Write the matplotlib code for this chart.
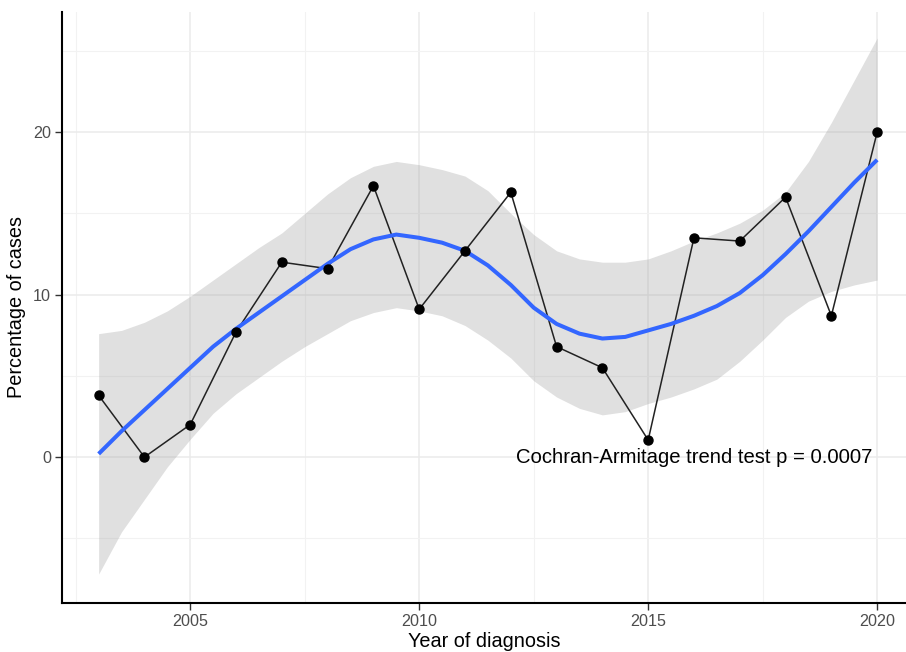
import numpy as np
import matplotlib
matplotlib.use("Agg")
import matplotlib.pyplot as plt
from matplotlib.ticker import MultipleLocator

plt.rcParams['font.family'] = ['Liberation Sans', 'DejaVu Sans']

# observed percentages per year
years = [2003, 2004, 2005, 2006, 2007, 2008, 2009, 2010, 2011, 2012,
         2013, 2014, 2015, 2016, 2017, 2018, 2019, 2020]
pct = [3.8, 0.0, 2.0, 7.7, 12.0, 11.6, 16.7, 9.1, 12.7, 16.3,
       6.8, 5.5, 1.05, 13.5, 13.3, 16.0, 8.7, 20.0]

# loess smooth and its band, every half year
smooth_x = [2003, 2003.5, 2004, 2004.5, 2005, 2005.5, 2006, 2006.5, 2007, 2007.5,
            2008, 2008.5, 2009, 2009.5, 2010, 2010.5, 2011, 2011.5, 2012, 2012.5,
            2013, 2013.5, 2014, 2014.5, 2015, 2015.5, 2016, 2016.5, 2017, 2017.5,
            2018, 2018.5, 2019, 2019.5, 2020]
smooth_fit = [0.2, 1.6, 2.9, 4.2, 5.5, 6.8, 7.9, 8.9, 9.9, 10.9,
              11.9, 12.8, 13.4, 13.7, 13.5, 13.2, 12.7, 11.8, 10.6, 9.2,
              8.2, 7.6, 7.3, 7.4, 7.8, 8.2, 8.7, 9.3, 10.1, 11.2,
              12.5, 13.9, 15.4, 16.9, 18.3]
band_hi = [7.6, 7.8, 8.3, 9.0, 9.9, 10.9, 11.9, 12.9, 13.8, 15.0,
           16.2, 17.2, 17.9, 18.2, 18.0, 17.7, 17.3, 16.4, 15.0, 13.7,
           12.7, 12.2, 12.0, 12.0, 12.2, 12.7, 13.3, 13.8, 14.4, 15.2,
           16.3, 18.2, 20.6, 23.2, 25.8]
band_lo = [-7.2, -4.6, -2.6, -0.6, 1.1, 2.7, 3.9, 4.9, 5.9, 6.8,
           7.6, 8.4, 8.9, 9.2, 9.0, 8.7, 8.1, 7.2, 6.1, 4.7,
           3.7, 3.0, 2.6, 2.8, 3.3, 3.7, 4.2, 4.8, 5.9, 7.2,
           8.6, 9.6, 10.2, 10.6, 10.9]

fig = plt.figure(figsize=(9.06, 6.52), dpi=100)
ax = fig.add_axes([62/906, 49/652, 844/906, 591/652])

ax.fill_between(smooth_x, band_lo, band_hi, color='#999999', alpha=0.3,
                linewidth=0, zorder=2)
ax.plot(years, pct, color='#222222', lw=1.1, zorder=3)
ax.plot(smooth_x, smooth_fit, color='#3366FF', lw=2.9, zorder=4,
        solid_capstyle='butt', solid_joinstyle='round')
ax.plot(years, pct, 'o', color='black', ms=6.5, zorder=5)

ax.text(2016, 0, 'Cochran-Armitage trend test p = 0.0007', fontsize=14.6,
        ha='center', va='center', color='black', zorder=6)

ax.set_xlim(2002.2, 2020.63)
ax.set_ylim(-8.98, 27.4)
ax.xaxis.set_major_locator(MultipleLocator(5))
ax.xaxis.set_minor_locator(MultipleLocator(2.5))
ax.yaxis.set_major_locator(MultipleLocator(10))
ax.yaxis.set_minor_locator(MultipleLocator(5))
ax.grid(which='major', color='#EBEBEB', lw=1.1, zorder=0)
ax.grid(which='minor', color='#F2F2F2', lw=0.8, zorder=0)
ax.set_axisbelow(True)

for s in ['top', 'right']:
    ax.spines[s].set_visible(False)
for s in ['left', 'bottom']:
    ax.spines[s].set_linewidth(1.5)
    ax.spines[s].set_color('black')

ax.tick_params(which='major', length=5, width=1, color='#333333',
               labelsize=11.6, labelcolor='#4D4D4D', pad=3)
ax.tick_params(which='minor', length=0)

ax.set_xlabel('Year of diagnosis', fontsize=14.3, color='black', labelpad=2)
ax.set_ylabel('Percentage of cases', fontsize=14.3, color='black', labelpad=5)

fig.savefig('out.png', dpi=100)
